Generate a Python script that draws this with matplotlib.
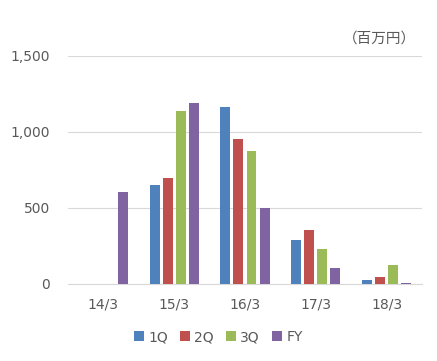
import matplotlib.pyplot as plt
import numpy as np

plt.rcParams['font.family'] = ['DejaVu Sans', 'Noto Sans CJK JP']

categories = ['14/3', '15/3', '16/3', '17/3', '18/3']
series = ['1Q', '2Q', '3Q', 'FY']
q1 = [0, 651, 1164, 289, 26]
q2 = [0, 697, 954, 355, 46]
q3 = [0, 1138, 875, 230, 125]
fy = [605, 1191, 500, 105, 7]
colors = ['#4F81BD', '#C0504D', '#9BBB59', '#8064A2']

fig = plt.figure(figsize=(4.37, 3.61), dpi=100)
ax = fig.add_axes([0.1556, 0.2133, 0.81, 0.6316])

x = np.arange(len(categories))
step = 0.184
width = 0.141
for i, (vals, name) in enumerate(zip([q1, q2, q3, fy], series)):
    ax.bar(x + (i - 1.5) * step, vals, width=width, color=colors[i], label=name, zorder=3)

ax.set_xlim(-0.5, len(categories) - 0.5)
ax.set_ylim(0, 1500)
ax.set_yticks([0, 500, 1000, 1500])
ax.set_yticklabels(['0', '500', '1,000', '1,500'])
ax.set_xticks(x)
ax.set_xticklabels(categories)
ax.grid(axis='y', color='#D9D9D9', linewidth=0.8, zorder=0)
for s in ['top', 'right', 'left']:
    ax.spines[s].set_visible(False)
ax.spines['bottom'].set_color('#D9D9D9')
ax.tick_params(length=0, colors='#595959', labelsize=10)
ax.tick_params(axis='x', pad=10)
ax.tick_params(axis='y', pad=13)

fig.text(0.953, 0.893, '（百万円）', ha='right', va='center', fontsize=10.5,
         color='#595959', family=['Noto Sans CJK JP', 'DejaVu Sans'])

fig.legend(loc='center', bbox_to_anchor=(0.5, 0.066), ncol=4, frameon=False,
           fontsize=10, handlelength=0.7, handleheight=0.7, handletextpad=0.3,
           columnspacing=0.9, labelcolor='#595959')

fig.savefig('out.png', dpi=100)
